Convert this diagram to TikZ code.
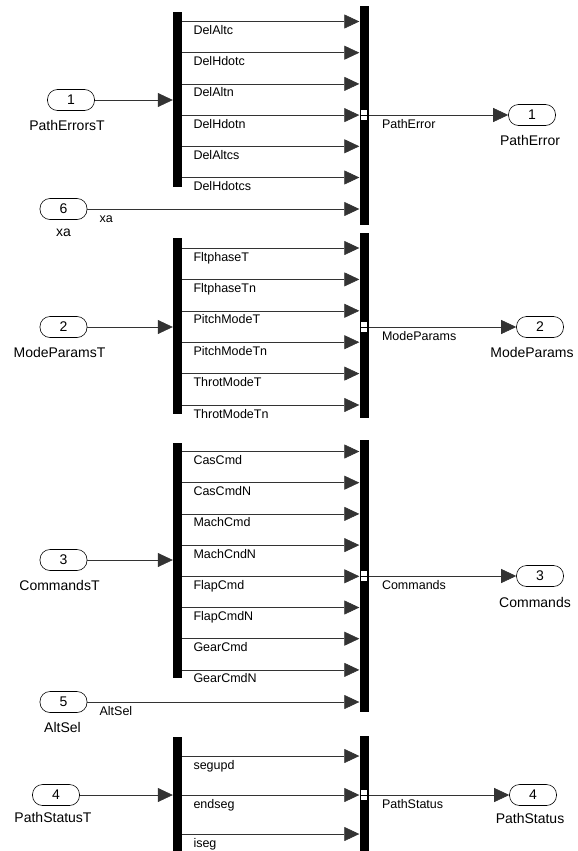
\documentclass[tikz,border=0pt]{standalone}
\usepackage{fontspec}
\setmainfont{Liberation Sans}
\usetikzlibrary{calc,arrows.meta}

\begin{document}
\begin{tikzpicture}[x=1pt,y=-1pt,
  bar/.style={fill=black,inner sep=0pt,minimum width=9pt},
  port/.style={draw,line width=0.6pt,rounded corners=10pt,minimum width=47pt,
    minimum height=21pt,inner sep=0pt,font=\fontsize{14}{16}\selectfont},
  plbl/.style={inner sep=0pt,font=\fontsize{14}{16}\selectfont},
  sig/.style={line width=0.6pt,-{Triangle[length=15pt,width=14pt]},
    every edge/.append style={draw=black!80}},
  slbl/.style={pos=0,anchor=base west,xshift=11pt,yshift=-13pt,inner sep=0pt,
    font=\fontsize{12.5}{14}\selectfont},
  tap/.style={fill=white,draw,line width=0.4pt,minimum width=7pt,minimum height=11pt,
    inner sep=0pt,path picture={\draw[line width=0.4pt] (path picture bounding box.west)
    -- (path picture bounding box.east);}}]
 \useasboundingbox (0,0) rectangle (578,851);

 \node[bar,minimum height=175pt] (D1) at (177.5,99.5) {};
 \node[bar,minimum height=219pt] (M1) at (364,115.5) {};
 \node[bar,minimum height=176pt] (D2) at (177.5,326) {};
 \node[bar,minimum height=185pt] (M2) at (364,325.5) {};
 \node[bar,minimum height=235pt] (D3) at (177.5,560.5) {};
 \node[bar,minimum height=272pt] (M3) at (364,576) {};
 \node[bar,minimum height=114pt] (D4) at (177.5,794) {};
 \node[bar,minimum height=115pt] (M4) at (364,793.5) {};

 \node[port] (in1) at (71,100) {1};
 \node[port] (in6) at (63.5,209) {6};
 \node[port] (in2) at (63.5,327) {2};
 \node[port] (in3) at (63.5,560) {3};
 \node[port] (in5) at (63.5,702) {5};
 \node[port] (in4) at (56,795) {4};
 \node[port] (out1) at (532,115) {1};
 \node[port] (out2) at (540,327) {2};
 \node[port] (out3) at (540,576) {3};
 \node[port] (out4) at (533,795) {4};

 \node[plbl] at ($(in1)+(-4,25)$) {PathErrorsT};
 \node[plbl] at ($(in6)+(0,24)$) {xa};
 \node[plbl] at ($(in2)+(-4,25)$) {ModeParamsT};
 \node[plbl] at ($(in3)+(-4,25)$) {CommandsT};
 \node[plbl] at ($(in5)+(-1,25)$) {AltSel};
 \node[plbl] at ($(in4)+(-3,22)$) {PathStatusT};
 \node[plbl] at ($(out1)+(-2,25)$) {PathError};
 \node[plbl] at ($(out2)+(-8,25)$) {ModeParams};
 \node[plbl] at ($(out3)+(-5,26)$) {Commands};
 \node[plbl] at ($(out4)+(-3,23)$) {PathStatus};

 \path[sig] (in1) edge (in1 -| D1.west)
   (D1.east |- 0,21.5) edge node[slbl] {DelAltc} (M1.west |- 0,21.5)
   (D1.east |- 0,52.7) edge node[slbl] {DelHdotc} (M1.west |- 0,52.7)
   (D1.east |- 0,83.9) edge node[slbl] {DelAltn} (M1.west |- 0,83.9)
   (D1.east |- 0,115.1) edge node[slbl] {DelHdotn} (M1.west |- 0,115.1)
   (D1.east |- 0,146.3) edge node[slbl] {DelAltcs} (M1.west |- 0,146.3)
   (D1.east |- 0,177.5) edge node[slbl] {DelHdotcs} (M1.west |- 0,177.5)
   (in6) edge node[slbl,xshift=1pt] {xa} (in6 -| M1.west)
   (M1.east |- out1) edge node[slbl,xshift=2pt] {PathError} (out1);

 \path[sig] (in2) edge (in2 -| D2.west)
   (D2.east |- 0,248) edge node[slbl] {FltphaseT} (M2.west |- 0,248)
   (D2.east |- 0,279.4) edge node[slbl] {FltphaseTn} (M2.west |- 0,279.4)
   (D2.east |- 0,310.8) edge node[slbl] {PitchModeT} (M2.west |- 0,310.8)
   (D2.east |- 0,342.2) edge node[slbl] {PitchModeTn} (M2.west |- 0,342.2)
   (D2.east |- 0,373.6) edge node[slbl] {ThrotModeT} (M2.west |- 0,373.6)
   (D2.east |- 0,405) edge node[slbl] {ThrotModeTn} (M2.west |- 0,405)
   (M2.east |- out2) edge node[slbl,xshift=2pt] {ModeParams} (out2);

 \path[sig] (in3) edge (in3 -| D3.west)
   (D3.east |- 0,451.5) edge node[slbl] {CasCmd} (M3.west |- 0,451.5)
   (D3.east |- 0,482.7) edge node[slbl] {CasCmdN} (M3.west |- 0,482.7)
   (D3.east |- 0,513.9) edge node[slbl] {MachCmd} (M3.west |- 0,513.9)
   (D3.east |- 0,545.1) edge node[slbl] {MachCndN} (M3.west |- 0,545.1)
   (D3.east |- 0,576.3) edge node[slbl] {FlapCmd} (M3.west |- 0,576.3)
   (D3.east |- 0,607.5) edge node[slbl] {FlapCmdN} (M3.west |- 0,607.5)
   (D3.east |- 0,638.7) edge node[slbl] {GearCmd} (M3.west |- 0,638.7)
   (D3.east |- 0,669.9) edge node[slbl] {GearCmdN} (M3.west |- 0,669.9)
   (in5) edge node[slbl,xshift=1pt] {AltSel} (in5 -| M3.west)
   (M3.east |- out3) edge node[slbl,xshift=2pt] {Commands} (out3);

 \path[sig] (in4) edge (in4 -| D4.west)
   (D4.east |- 0,756) edge node[slbl] {segupd} (M4.west |- 0,756)
   (D4.east |- 0,795) edge node[slbl] {endseg} (M4.west |- 0,795)
   (D4.east |- 0,834) edge node[slbl] {iseg} (M4.west |- 0,834)
   (M4.east |- out4) edge node[slbl,xshift=2pt] {PathStatus} (out4);

 \node[tap] at (M1 |- out1) {};
 \node[tap] at (M2 |- out2) {};
 \node[tap] at (M3 |- out3) {};
 \node[tap] at (M4 |- out4) {};
\end{tikzpicture}
\end{document}
